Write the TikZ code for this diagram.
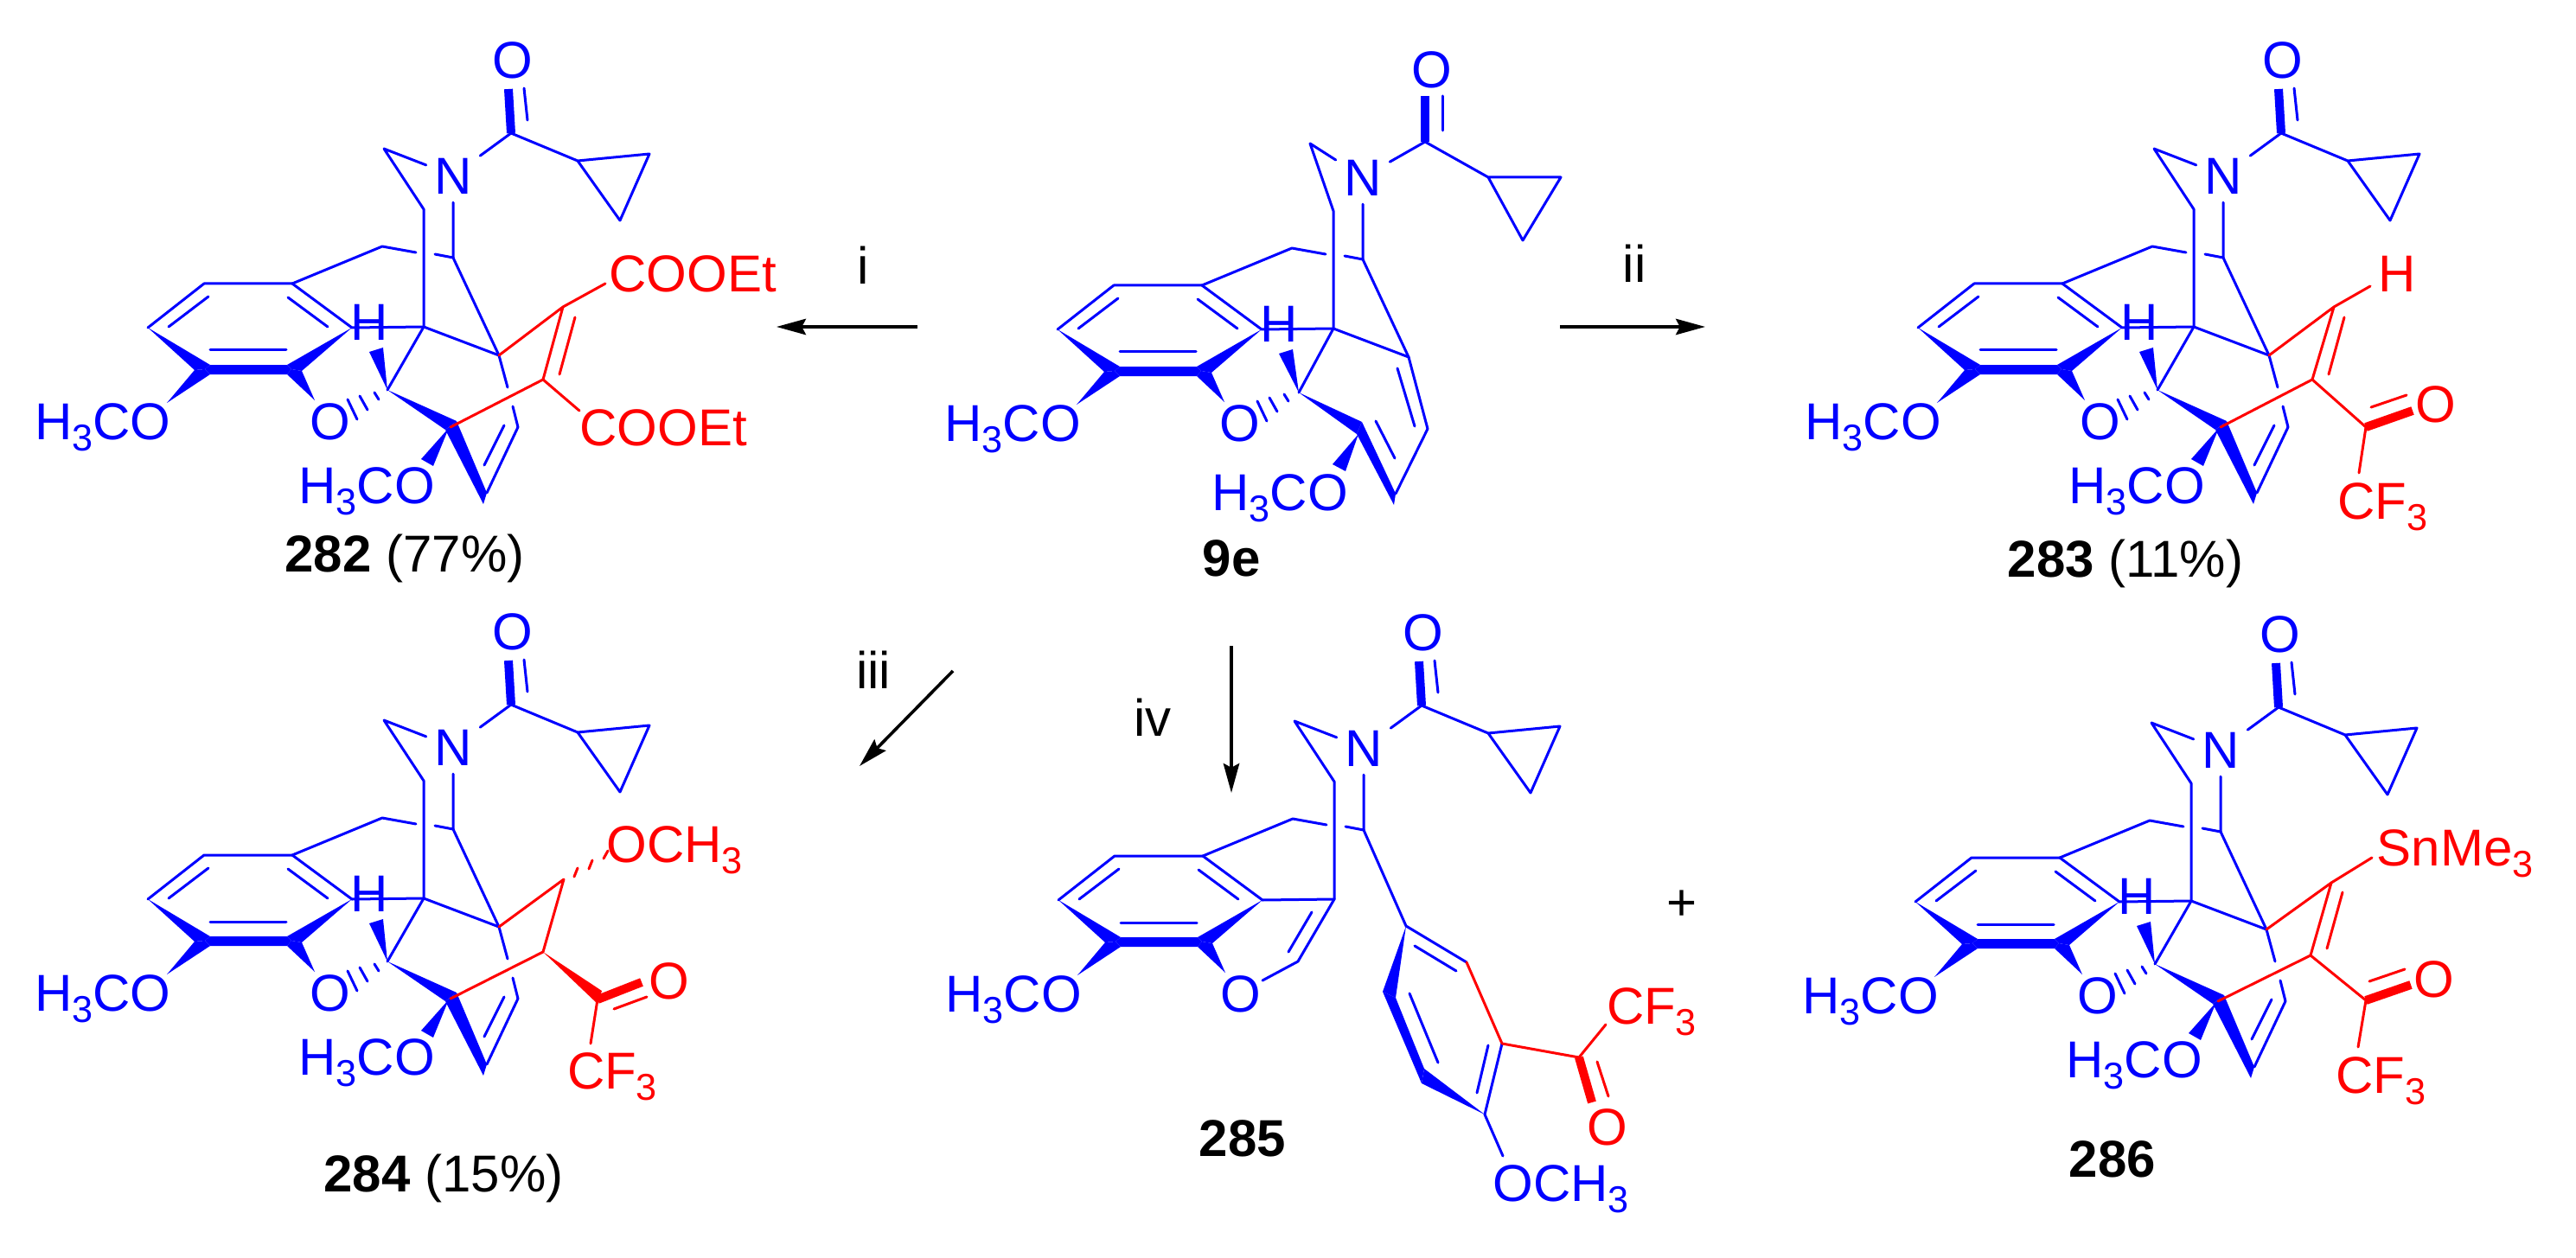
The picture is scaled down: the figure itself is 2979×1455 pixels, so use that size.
\documentclass[tikz,border=0pt]{standalone}
\usepackage{fontspec}
\setmainfont{Liberation Sans}
\usetikzlibrary{arrows.meta}

\tikzset{
  bond/.style={line width=0.75pt,blue,line join=round,line cap=round},
  redbond/.style={bond,red},
  boldbond/.style={line width=2.5pt,blue},
  redbold/.style={boldbond,red},
  atom/.style={font=\fontsize{15}{18}\selectfont,text=blue,text height=10.75pt,text depth=0pt,inner sep=0pt},
  redatom/.style={atom,text=red},
  cmpd/.style={atom,text=black},
  rxn/.style={line width=0.9pt,-{Stealth[length=8.5pt,width=4.6pt,inset=1.2pt]}}
}
\newcommand{\subthree}{\raisebox{-3.2pt}{\fontsize{10.8}{11}\selectfont 3}}

% atoms of one skeleton, all molecules are shifted copies of this
\newcommand{\skelcoords}{
  \coordinate (oxo) at (593,69);
  \coordinate (oa) at (588,103);
  \coordinate (co) at (591,154);
  \coordinate (ob) at (606,102);
  \coordinate (oc) at (610,139);
  \coordinate (cpa) at (668,186);
  \coordinate (cpb) at (751,178);
  \coordinate (cpc) at (717,255);
  \coordinate (nn) at (524,203);
  \coordinate (cht) at (444,172);
  \coordinate (ch) at (490,242);
  \coordinate (cb) at (524,298);
  \coordinate (cc) at (442,285);
  \coordinate (ga) at (481,292);
  \coordinate (gb) at (503,294);
  \coordinate (qc) at (490,378);
  \coordinate (ra) at (338,328);
  \coordinate (rb) at (236,328);
  \coordinate (rc) at (171,379);
  \coordinate (rf) at (407,379);
  \coordinate (gc) at (577,411);
  \coordinate (hc) at (448,451);
  \coordinate (ic) at (521,494);
  \coordinate (ia) at (528,487);
  \coordinate (ib) at (515,497);
  \coordinate (ja) at (563,570);
  \coordinate (jb) at (559,583);
  \coordinate (kc) at (599,494);
  \coordinate (wt) at (519,495);
  \coordinate (wa) at (487,531);
  \coordinate (wb) at (501,539);
  \coordinate (meo) at (424,561);
}
\newcommand{\azapart}{
  \node[atom] (oxotxt) at (oxo) {O};
  \node[atom,inner sep=2.2pt] (ntxt) at (nn) {N};
  \draw[boldbond] (oa) -- (co);
  \draw[bond] (ob) -- (oc);
  \draw[bond] (ntxt) -- (co) -- (cpa) -- (cpb) -- (cpc) -- (cpa);
  \draw[bond] (ntxt) -- (cht) -- (ch) -- (qc);
  \draw[bond] (ntxt) -- (cb) -- (gb);
  \draw[bond] (ga) -- (cc) -- (ra);
}
\newcommand{\ringpart}{
  \draw[bond] (ra) -- (rb) -- (rc);
  \draw[bond] (ra) -- (rf) -- (qc);
  \draw[bond] (195,378) -- (241,343);
  \draw[bond] (333,344) -- (379,378);
  \draw[bond] (243,405) -- (331,405);
  \fill[blue] (rc) -- (243,422) -- (237,427) -- (225,428) -- cycle;
  \fill[blue] (243,422) -- (332,422) -- (337,427) -- (332,433) -- (243,433) -- (237,427) -- cycle;
  \fill[blue] (rf) -- (332,422) -- (337,427) -- (349,429) -- cycle;
  \fill[blue] (193,466) -- (225,428) -- (237,427) -- (243,433) -- cycle;
  \fill[blue] (364,463) -- (332,433) -- (337,427) -- (349,429) -- cycle;
  \node[atom] (lmeo) at (119,487) {H\subthree CO};
  \node[atom] (ringo) at (382,487) {O};
}
\newcommand{\bridgepart}{
  \draw[bond] (qc) -- (hc);
  \draw[bond] (qc) -- (gc);
  \draw[bond] (cb) -- (gc);
  \node[atom] (htxt) at (427,372) {H};
  \fill[blue] (hc) -- (427,407) -- (443,402) -- cycle;
  \draw[bond] (433,454) -- (438,462) (416,458) -- (425,474) (402,462) -- (413,485);
  \fill[blue] (hc) -- (ia) -- (ib) -- cycle;
  \fill[blue] (ia) -- (ja) -- (jb) -- (ib) -- cycle;
  \fill[blue] (wt) -- (wa) -- (wb) -- cycle;
  \node[atom] (umeo) at (meo) {H\subthree CO};
  \draw[bond] (ja) -- (kc);
}
% the blue bond behind the red bridge of the products
\newcommand{\gapbond}{
  \draw[bond] (gc) -- (587,448) (593,470) -- (kc);
  \draw[bond] (560,538) -- (583,492);
}

\begin{document}
\begin{tikzpicture}[x=0.25pt,y=-0.25pt]
  \useasboundingbox (0,0) rectangle (2979,1455);

  % 282
  \begin{scope}
    \skelcoords
    \azapart
    \ringpart
    \bridgepart
    \gapbond
  \end{scope}
  \coordinate (ea) at (651,355);
  \coordinate (eb) at (628,439);
  \coordinate (ec) at (670,475);
  \coordinate (ed) at (700,328);
  \draw[redbond] (gc) -- (ea) -- (eb) -- (ic);
  \draw[redbond] (ea) -- (ed);
  \draw[redbond] (eb) -- (ec);
  \draw[redbond] (665,367) -- (647,433);
  \node[redatom] (esta) at (801,316) {COOEt};
  \node[redatom] (estb) at (767,494) {COOEt};
  \node[cmpd] (lab282) at (468,640) {\textbf{282} (77\%)};

  % 9e
  \begin{scope}[shift={(1052,2)}]
    \skelcoords
    \coordinate (oxo) at (604,78);
    \coordinate (oa) at (596,109);
    \coordinate (co) at (596,162);
    \coordinate (ob) at (616,109);
    \coordinate (oc) at (616,149);
    \coordinate (cpa) at (669,203);
    \coordinate (cpb) at (753,203);
    \coordinate (cpc) at (709,276);
    \coordinate (cht) at (463,164);
    \coordinate (hc) at (450,452);
    \coordinate (ia) at (523,486);
    \coordinate (ib) at (517,500);
    \coordinate (ja) at (562,569);
    \coordinate (jb) at (560,582);
    \coordinate (wt) at (519,500);
    \coordinate (wa) at (489,535);
    \coordinate (wb) at (504,543);
    \coordinate (meo) at (428,567);
    \azapart
    \ringpart
    \bridgepart
    \draw[bond] (gc) -- (kc);
    \draw[bond] (564,424) -- (584,491);
    \draw[bond] (539,485) -- (561,528);
  \end{scope}
  \node[cmpd] (lab9e) at (1424,645) {\textbf{9e}};

  % 283
  \begin{scope}[shift={(2047,0)}]
    \skelcoords
    \azapart
    \ringpart
    \bridgepart
    \gapbond
  \end{scope}
  \coordinate (fa) at (2699,355);
  \coordinate (fb) at (2674,439);
  \coordinate (fc) at (2736,494);
  \coordinate (fd) at (2741,331);
  \coordinate (fe) at (2790,475);
  \coordinate (ff) at (2728,547);
  \draw[redbond] (gc) -- (fa) -- (fb) -- (ic);
  \draw[redbond] (fa) -- (fd);
  \draw[redbond] (fb) -- (fc) -- (ff);
  \draw[redbond] (2711,367) -- (2693,433);
  \draw[redbold] (fc) -- (fe);
  \draw[redbond] (2742,471) -- (2783,457);
  \node[redatom] (fh) at (2772,316) {H};
  \node[redatom] (foxo) at (2817,467) {O};
  \node[redatom] (fcf) at (2755,579) {CF\subthree};
  \node[cmpd] (lab283) at (2458,646) {\textbf{283} (11\%)};

  % 284
  \begin{scope}[shift={(0,661)}]
    \skelcoords
    \azapart
    \ringpart
    \bridgepart
    \gapbond
  \end{scope}
  \coordinate (ma) at (652,1017);
  \coordinate (mb) at (628,1101);
  \coordinate (mc) at (691,1156);
  \coordinate (md) at (742,1136);
  \coordinate (me) at (683,1207);
  \draw[redbond] (gc) -- (ma) -- (mb) -- (ic);
  \draw[redbond] (664,1014) -- (668,1004) (681,1005) -- (685,995) (698,993) -- (703,984);
  \fill[red] (mb) -- (696,1146) -- (691,1161) -- cycle;
  \draw[redbold] (mc) -- (md);
  \draw[redbond] (710,1167) -- (748,1153);
  \draw[redbond] (mc) -- (me);
  \node[redatom] (mome) at (780,976) {OCH\subthree};
  \node[redatom] (moxo) at (774,1134) {O};
  \node[redatom] (mcf) at (708,1238) {CF\subthree};
  \node[cmpd] (lab284) at (513,1357) {\textbf{284} (15\%)};

  % 285
  \begin{scope}[shift={(1053,662)}]
    \skelcoords
    \azapart
    \ringpart
  \end{scope}
  \coordinate (da) at (1501,1112);
  \coordinate (db) at (1460,1134);
  \coordinate (dc) at (1626,1071);
  \coordinate (dd) at (1696,1113);
  \coordinate (de) at (1737,1207);
  \coordinate (df) at (1717,1289);
  \coordinate (dg) at (1738,1337);
  \coordinate (dh) at (1826,1223);
  \coordinate (di) at (1857,1185);
  \coordinate (dj) at (1841,1275);
  \draw[bond] (qc) -- (da) -- (db);
  \draw[bond] (1517,1055) -- (1490,1101);
  \draw[bond] (cb) -- (dc) -- (dd);
  \draw[bond] (1636,1094) -- (1684,1123);
  \draw[bond] (1630,1149) -- (1663,1229);
  \draw[redbond] (dd) -- (de);
  \draw[bond] (de) -- (df) -- (dg);
  \draw[bond] (1721,1209) -- (1708,1264);
  \fill[blue] (dc) -- (1599,1147) -- (1614,1154) -- cycle;
  \fill[blue] (1599,1147) -- (1614,1154) -- (1647,1236) -- (1644,1253) -- cycle;
  \fill[blue] (df) -- (1647,1236) -- (1644,1253) -- cycle;
  \draw[redbond] (de) -- (dh) -- (di);
  \draw[redbold] (dh) -- (dj);
  \draw[redbond] (1847,1228) -- (1860,1268);
  \node[redatom] (dcf) at (1910,1163) {CF\subthree};
  \node[redatom] (doxo) at (1859,1303) {O};
  \node[atom] (dome) at (1805,1368) {OCH\subthree};
  \node[cmpd] (lab285) at (1437,1316) {\textbf{285}};

  % 286
  \begin{scope}[shift={(2044,664)}]
    \skelcoords
    \azapart
    \ringpart
    \bridgepart
    \gapbond
  \end{scope}
  \coordinate (sa) at (2696,1021);
  \coordinate (sb) at (2672,1105);
  \coordinate (sc) at (2736,1157);
  \coordinate (sd) at (2743,992);
  \coordinate (se) at (2788,1139);
  \coordinate (sf) at (2727,1211);
  \draw[redbond] (gc) -- (sa) -- (sb) -- (ic);
  \draw[redbond] (sa) -- (sd);
  \draw[redbond] (sb) -- (sc) -- (sf);
  \draw[redbond] (2709,1032) -- (2691,1097);
  \draw[redbold] (sc) -- (se);
  \draw[redbond] (2740,1135) -- (2781,1121);
  \node[redatom] (ssn) at (2839,980) {SnMe\subthree};
  \node[redatom] (soxo) at (2815,1132) {O};
  \node[redatom] (scf) at (2753,1243) {CF\subthree};
  \node[cmpd] (lab286) at (2443,1340) {\textbf{286}};

  % arrows
  \coordinate (aa) at (1061,378);
  \coordinate (ab) at (898,378);
  \coordinate (ac) at (1804,378);
  \coordinate (ad) at (1972,378);
  \coordinate (ae) at (1102,776);
  \coordinate (af) at (994,886);
  \coordinate (ag) at (1424,747);
  \coordinate (ah) at (1424,917);
  \draw[rxn] (aa) -- (ab);
  \draw[rxn] (ac) -- (ad);
  \draw[rxn] (ae) -- (af);
  \draw[rxn] (ag) -- (ah);
  \node[cmpd] (si) at (998,307) {i};
  \node[cmpd] (sii) at (1890,305) {ii};
  \node[cmpd] (siii) at (1010,775) {iii};
  \node[cmpd] (siv) at (1333,830) {iv};
  \node[cmpd] (plus) at (1945,1043) {+};
\end{tikzpicture}
\end{document}
